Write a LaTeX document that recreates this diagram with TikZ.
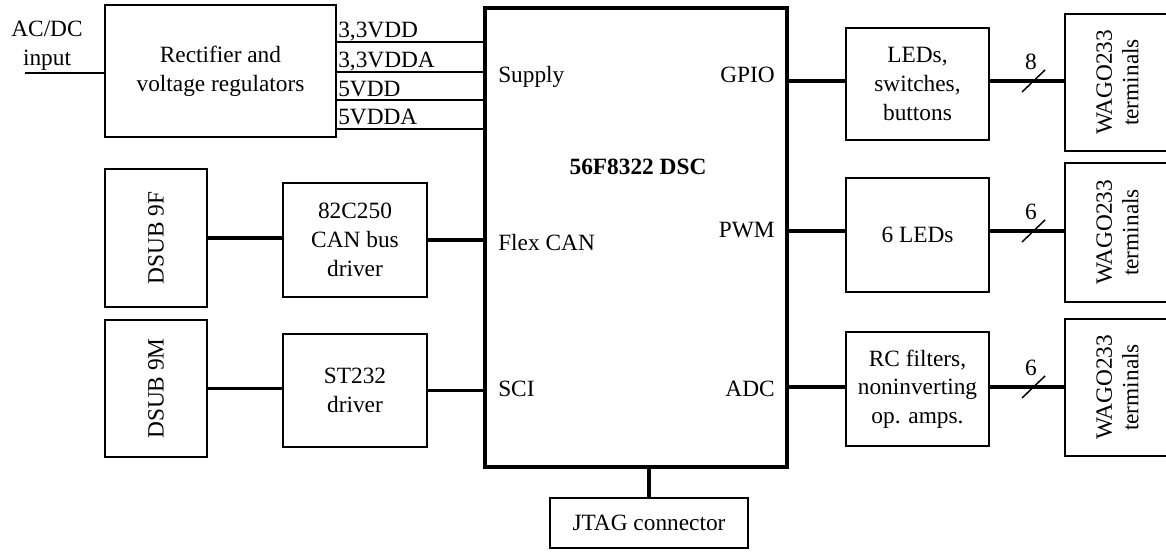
\documentclass[tikz,border=0pt]{standalone}
\usepackage{fontspec}
\setmainfont{Liberation Serif}
\newfontfamily\rotfont{Liberation Serif}
\usetikzlibrary{calc}
\begin{document}
\begin{tikzpicture}[x=0.75pt,y=-0.75pt,
  box/.style={draw,line width=1.1pt,inner sep=0pt,align=center,font=\fontsize{17.5}{21.5}\selectfont},
  rottext/.style={rotate=90,inner sep=0pt,align=center,font=\rotfont\fontsize{17.5}{20}\selectfont},
  conn/.style={line width=2.3pt},
  thinline/.style={line width=1.1pt},
  lbl/.style={inner sep=0pt,font=\fontsize{17.5}{21.5}\selectfont}]
\useasboundingbox (0,0) rectangle (1166,556);
\clip (0,0) rectangle (1166,556);

% boxes
\node[box,minimum width=173.25pt,minimum height=99pt] (rect) at (220.5,71) {Rectifier and\\voltage regulators};
\node[box,line width=3pt,minimum width=226.5pt,minimum height=344.25pt] (main) at (636,237.5) {};
\node[box,minimum width=148.5pt,minimum height=37.5pt] (jtag) at (649,523) {JTAG connector};
\node[box,minimum width=76.5pt,minimum height=103.5pt] (dsubf) at (156,238) {};
\node[rottext] at (dsubf) {DSUB 9F};
\node[box,minimum width=76.5pt,minimum height=102.75pt] (dsubm) at (156,388.5) {};
\node[rottext] at (dsubm) {DSUB 9M};
\node[box,minimum width=108pt,minimum height=85.5pt] (can) at (355,240) {82C250\\CAN bus\\driver};
\node[box,minimum width=108pt,minimum height=84.75pt] (st) at (355,390.5) {ST232\\driver};
\node[box,minimum width=107.25pt,minimum height=84pt] (leds) at (917.5,84) {LEDs,\\switches,\\buttons};
\node[box,minimum width=107.25pt,minimum height=85.5pt] (led6) at (917.5,235) {6 LEDs};
\node[box,minimum width=107.25pt,minimum height=85.5pt] (rc) at (917.5,389) {RC filters,\\noninverting\\op. amps.};
\node[box,minimum width=78.75pt,minimum height=102.75pt] (wa) at (1117.5,82.5) {};
\node[rottext] at (wa) {WAGO233\\terminals};
\node[box,minimum width=78.75pt,minimum height=104.25pt] (wb) at (1117.5,232.5) {};
\node[rottext] at (wb) {WAGO233\\terminals};
\node[box,minimum width=78.75pt,minimum height=102.75pt] (wc) at (1117.5,387.5) {};
\node[rottext] at (wc) {WAGO233\\terminals};

% texts
\node[lbl,align=center] (acdc) at (47,46) {AC/DC\\input};
\node[lbl,anchor=base west] (l1) at (338,38) {3,3VDD};
\node[lbl,anchor=base west] (l2) at (338,68) {3,3VDDA};
\node[lbl,anchor=base west] (l3) at (338,97) {5VDD};
\node[lbl,anchor=base west] (l4) at (338,125) {5VDDA};
\node[lbl,anchor=base west] (sup) at (498,83) {Supply};
\node[lbl,anchor=base east] (gpio) at (775,83) {GPIO};
\node[lbl,anchor=base,font=\fontsize{17.5}{21.5}\selectfont\bfseries] (dsc) at (638,175) {56F8322 DSC};
\node[lbl,anchor=base west] (fcan) at (498,250) {Flex CAN};
\node[lbl,anchor=base east] (pwm) at (775,237) {PWM};
\node[lbl,anchor=base west] (sci) at (498,396) {SCI};
\node[lbl,anchor=base east] (adc) at (775,396) {ADC};

% input and supply lines
\coordinate (acin) at (25,73);
\draw[thinline] (acin) -- (acin -| rect.west);
\foreach \yy in {42,72,100,129}
  \draw[thinline] (rect.east |- 0,\yy) -- (main.west |- 0,\yy);

% connectors
\draw[conn] (dsubf.east) -- (dsubf.east -| can.west);
\draw[conn] (can.east) -- (can.east -| main.west);
\draw[conn] (dsubm.east) -- (dsubm.east -| st.west);
\draw[conn] (st.east) -- (st.east -| main.west);
\draw[conn] (main.east |- 0,81) -- (leds.west |- 0,81);
\draw[conn] (leds.east |- 0,81) -- (wa.west |- 0,81);
\draw[conn] (main.east |- 0,231) -- (led6.west |- 0,231);
\draw[conn] (led6.east |- 0,231) -- (wb.west |- 0,231);
\draw[conn] (main.east |- 0,387) -- (rc.west |- 0,387);
\draw[conn] (rc.east |- 0,387) -- (wc.west |- 0,387);
\draw[conn] (main.south -| jtag.north) -- (jtag.north);

% bus slashes
\foreach \yy/\n in {81/8,231/6,387/6}{
  \draw[thinline] (1022,\yy+11) -- (1045,\yy-11);
  \node[lbl] at (1031,\yy-19) {\n};
}
\end{tikzpicture}
\end{document}
